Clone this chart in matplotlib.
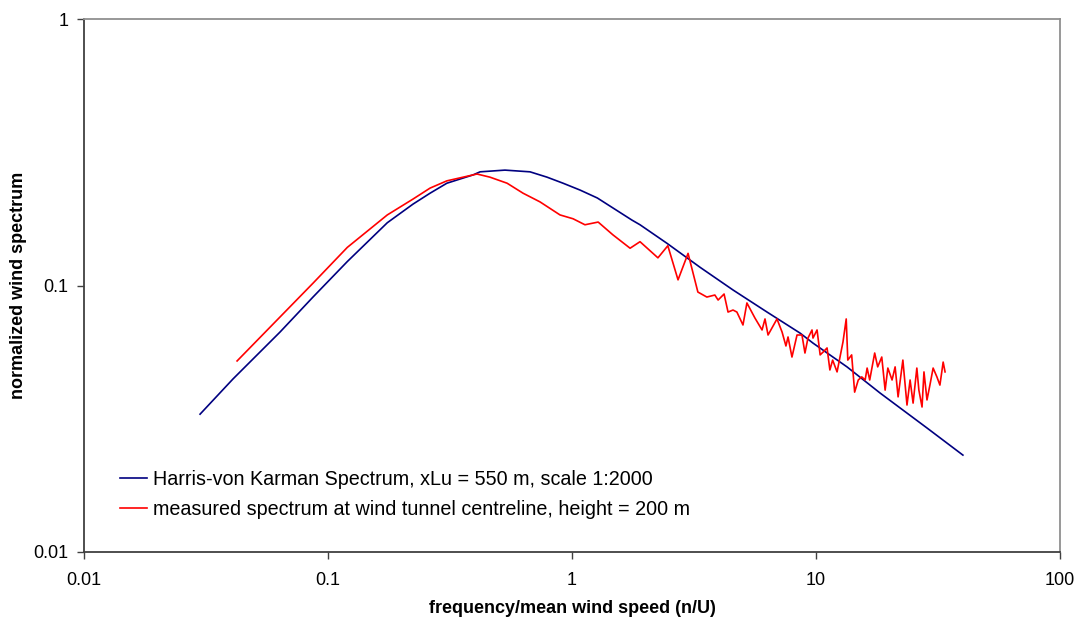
import matplotlib
matplotlib.use("Agg")
import matplotlib.pyplot as plt
from matplotlib.ticker import FixedLocator, FuncFormatter, NullLocator

plt.rcParams["font.family"] = ["Liberation Sans", "DejaVu Sans"]

# Harris-von Karman spectrum
hvk_f = [0.0299, 0.0408, 0.0636, 0.0868, 0.12, 0.175, 0.223, 0.262, 0.307,
         0.393, 0.42, 0.531, 0.673, 0.79, 0.919, 1.08, 1.27, 1.76, 1.9,
         2.45, 3.35, 4.57, 6.3, 8.6, 9.72, 13.4, 18.3, 28.5, 40.0]
hvk_s = [0.0329, 0.0446, 0.0669, 0.0905, 0.123, 0.172, 0.202, 0.222, 0.242,
         0.26, 0.267, 0.271, 0.267, 0.255, 0.242, 0.228, 0.213, 0.176, 0.169,
         0.144, 0.117, 0.0962, 0.0795, 0.0663, 0.0608, 0.0495, 0.0395, 0.0292, 0.0231]

# measured spectrum at centreline
meas_f = [0.0424, 0.0636, 0.0868, 0.120, 0.175, 0.223, 0.262, 0.307, 0.358,
          0.408, 0.461, 0.542, 0.630, 0.739, 0.893, 1.01, 1.13, 1.28, 1.47,
          1.73, 1.90, 2.25, 2.47, 2.72, 2.99,
          3.28, 3.57, 3.85, 3.97, 4.20, 4.36, 4.57, 4.74, 5.02, 5.21,
          5.62, 6.01, 6.18, 6.36, 6.92, 7.26, 7.53, 7.68, 7.97, 8.36,
          8.76, 9.01, 9.27, 9.63, 9.72, 10.1, 10.4, 10.7, 11.1, 11.4,
          11.7, 12.2, 12.9, 13.3, 13.5, 14.0, 14.4, 14.9, 15.4, 15.9,
          16.2, 16.6, 17.4, 17.9, 18.6, 19.2, 19.7, 20.5, 21.1, 21.7,
          22.7, 23.6, 24.3, 25.0, 25.9, 26.4, 27.2, 27.7, 28.5, 29.3,
          30.2, 31.3, 32.2, 33.2, 33.8]
meas_s = [0.0521, 0.0762, 0.102, 0.139, 0.184, 0.211, 0.232, 0.247, 0.255,
          0.262, 0.255, 0.242, 0.222, 0.206, 0.184, 0.178, 0.169, 0.173, 0.155,
          0.138, 0.146, 0.127, 0.141, 0.105, 0.132,
          0.0945, 0.0905, 0.0921, 0.0882, 0.0929, 0.0795, 0.0809, 0.0795, 0.0711, 0.086,
          0.0755, 0.0681, 0.0749, 0.0652, 0.0749, 0.0669, 0.0593, 0.0641, 0.0539, 0.0652,
          0.0652, 0.0558, 0.0635, 0.0681, 0.0635, 0.0681, 0.0549, 0.0563, 0.0583, 0.0482,
          0.0525, 0.0474, 0.0614, 0.0749, 0.0525, 0.0549, 0.0398, 0.0442, 0.0454, 0.0442,
          0.049, 0.0442, 0.0558, 0.0495, 0.0539, 0.0405, 0.049, 0.0442, 0.0495, 0.0382,
          0.0525, 0.0356, 0.0442, 0.0362, 0.049, 0.0405, 0.035, 0.0474, 0.0372, 0.0423,
          0.049, 0.0454, 0.0423, 0.0516, 0.0474]

xticks = [0.01, 0.1, 1, 10, 100]
yticks = [0.01, 0.1, 1]

fig = plt.figure(figsize=(10.82, 6.23), dpi=100)
ax = fig.add_axes([84 / 1082, 1 - 552 / 623, 976 / 1082, 533 / 623])

ax.plot(hvk_f, hvk_s, color="#000080", lw=1.2, solid_joinstyle="round",
        label="Harris-von Karman Spectrum, xLu = 550 m, scale 1:2000")
ax.plot(meas_f, meas_s, color="#ff0000", lw=1.2, solid_joinstyle="round",
        label="measured spectrum at wind tunnel centreline, height = 200 m")

ax.set_xscale("log")
ax.set_yscale("log")
ax.set_xlim(0.01, 100)
ax.set_ylim(0.01, 1)
ax.xaxis.set_major_locator(FixedLocator(xticks))
ax.yaxis.set_major_locator(FixedLocator(yticks))
ax.xaxis.set_minor_locator(NullLocator())
ax.yaxis.set_minor_locator(NullLocator())
fmt = FuncFormatter(lambda v, p: "%g" % v)
ax.xaxis.set_major_formatter(fmt)
ax.yaxis.set_major_formatter(fmt)
ax.tick_params(labelsize=13, length=5, width=1, color="#404040", pad=6)
ax.tick_params(axis="x", pad=9.5)

for s in ["left", "bottom"]:
    ax.spines[s].set_color("#404040")
    ax.spines[s].set_linewidth(1.3)
for s in ["top", "right"]:
    ax.spines[s].set_color("#909090")
    ax.spines[s].set_linewidth(1.3)

ax.set_xlabel("frequency/mean wind speed (n/U)", fontsize=13, fontweight="bold", labelpad=8)
ax.set_ylabel("normalized wind spectrum", fontsize=13, fontweight="bold", labelpad=5)

ax.legend(loc="center left", bbox_to_anchor=(0.037, 0.108), frameon=False, fontsize=14.2,
          handlelength=1.37, handletextpad=0.3, labelspacing=0.6, borderpad=0, borderaxespad=0)

fig.savefig("out.png", dpi=100, facecolor="white")
